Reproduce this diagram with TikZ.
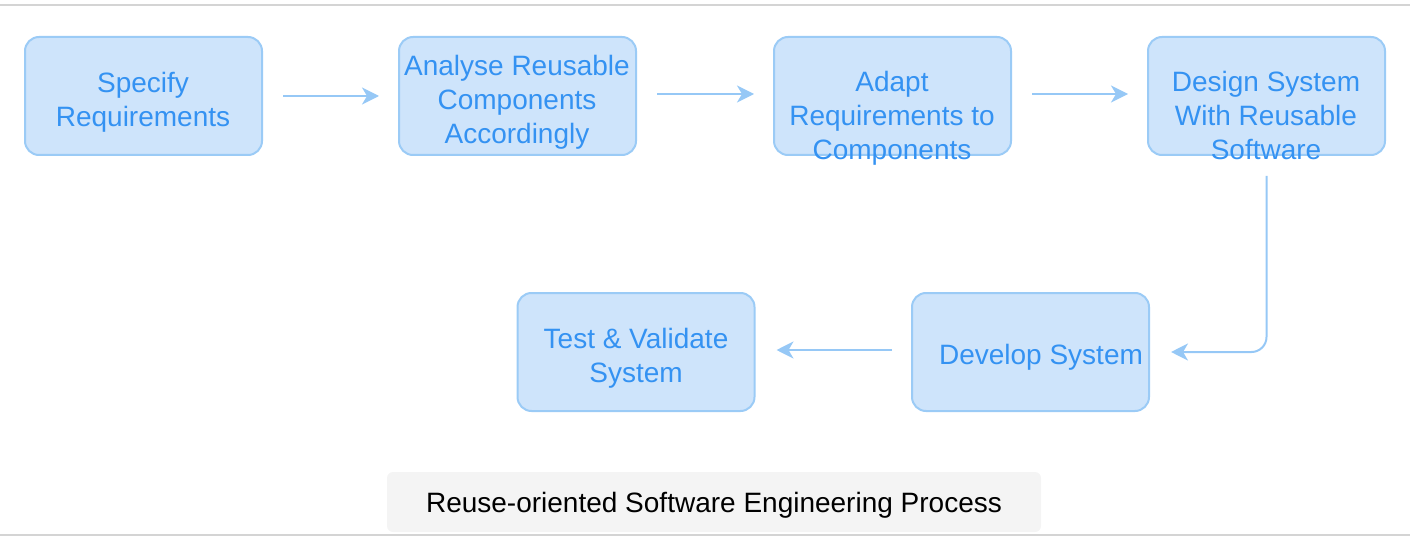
\documentclass[tikz,border=0pt]{standalone}
\usepackage{fontspec}
\setmainfont{Liberation Sans}
\usetikzlibrary{arrows.meta}
\definecolor{boxfill}{RGB}{206,228,251}
\definecolor{boxline}{RGB}{155,203,246}
\definecolor{boxtext}{RGB}{52,146,242}
\definecolor{arrowc}{RGB}{150,200,246}
\definecolor{rulegray}{RGB}{212,212,212}
\definecolor{capfill}{RGB}{244,244,244}
\begin{document}
\begin{tikzpicture}[x=1pt,y=-1pt,
 stepbox/.style={draw=boxline, fill=boxfill, line width=2pt, rounded corners=14pt, minimum width=237pt, minimum height=118pt, inner sep=0pt},
 steptext/.style={text=boxtext, font=\fontsize{28}{34}\selectfont, align=center, inner sep=0pt},
 flow/.style={draw=arrowc, line width=2pt, -{Stealth[length=17pt,width=17pt,inset=5pt]}},
 captionbox/.style={fill=capfill, rounded corners=6pt, minimum width=654pt, minimum height=60pt, inner sep=0pt},
 captiontext/.style={font=\fontsize{28}{32}\selectfont, inner sep=0pt},
 rule/.style={draw=rulegray, line width=2pt}
]
\useasboundingbox (0,0) rectangle (1410,540);
\draw[rule] (0,5) -- (1410,5);
\draw[rule] (0,535) -- (1410,535);

\node[stepbox] (spec) at (143.5,96) {};
\node[stepbox] (anal) at (517.5,96) {};
\node[stepbox] (adapt) at (892.5,96) {};
\node[stepbox] (design) at (1266.5,96) {};
\node[stepbox] (test) at (636,352) {};
\node[stepbox] (dev) at (1030.5,352) {};

\node[steptext] (specT) at (143,102) {Specify\\Requirements};
\node[steptext] (analT) at (517,102.5) {Analyse Reusable\\Components\\Accordingly};
\node[steptext] (adaptT) at (892,118) {Adapt\\Requirements to\\Components};
\node[steptext] (designT) at (1266,115) {Design System\\With Reusable\\Software};
\node[steptext] (testT) at (636,358) {Test \& Validate\\System};
\node[steptext] (devT) at (1041,357) {Develop System};

\draw[flow, shorten <=20pt, shorten >=19pt] (spec) -- (anal);
\draw[flow, shorten <=20pt, shorten >=19pt] ([yshift=2pt]anal.east) -- ([yshift=2pt]adapt.west);
\draw[flow, shorten <=20pt, shorten >=19pt] ([yshift=2pt]adapt.east) -- ([yshift=2pt]design.west);
\draw[flow, rounded corners=15pt] ([yshift=-20pt]design.south) |- ([xshift=21pt]dev.east);
\draw[flow] ([xshift=-19pt,yshift=2pt]dev.west) -- ([xshift=21pt,yshift=2pt]test.east);

\node[captionbox] (cap) at (714,502) {};
\node[captiontext] (capT) at (714,505) {Reuse-oriented Software Engineering Process};
\end{tikzpicture}
\end{document}
